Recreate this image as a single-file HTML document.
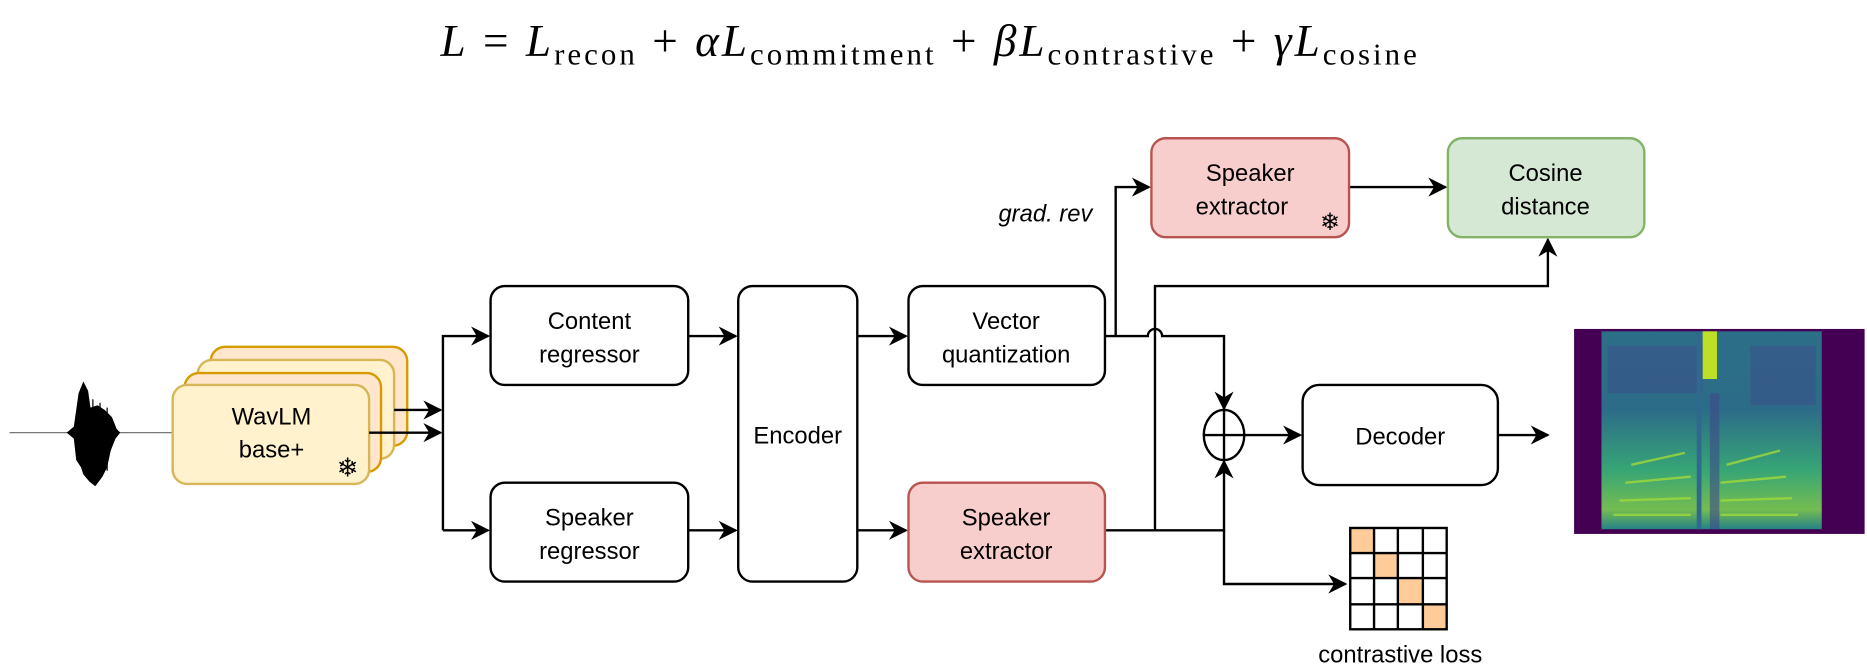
<!DOCTYPE html>
<html><head><meta charset="utf-8"><style>
html,body{margin:0;padding:0;background:#fff;}
svg{display:block}
.s{font-family:"Liberation Sans",Arial,sans-serif;}
.f{font-family:"Liberation Serif","DejaVu Serif",serif;}
</style></head><body>
<svg width="1867" height="671" viewBox="0 0 1568 563" preserveAspectRatio="none" xmlns="http://www.w3.org/2000/svg">
<defs>
<marker id="b" viewBox="0 0 10 10" refX="9" refY="5" markerWidth="16" markerHeight="16" orient="auto" markerUnits="userSpaceOnUse"><path d="M0,0 L10,5 L0,10 L3,5 z" fill="#000"/></marker>
<linearGradient id="sp" x1="0" y1="0" x2="0" y2="1">
<stop offset="0" stop-color="#2a7b8e"/><stop offset="0.4" stop-color="#2a788e"/><stop offset="0.7" stop-color="#35b779"/><stop offset="0.9" stop-color="#7ad151"/><stop offset="1" stop-color="#21918c"/></linearGradient>
</defs>
<!-- formula -->
<text class="f" x="370" y="47" font-size="38" textLength="820" lengthAdjust="spacing"><tspan font-style="italic">L</tspan> = <tspan font-style="italic">L</tspan><tspan font-size="26" dy="7">recon</tspan><tspan dy="-7"> + </tspan><tspan font-style="italic">αL</tspan><tspan font-size="26" dy="7">commitment</tspan><tspan dy="-7"> + </tspan><tspan font-style="italic">βL</tspan><tspan font-size="26" dy="7">contrastive</tspan><tspan dy="-7"> + </tspan><tspan font-style="italic">γL</tspan><tspan font-size="26" dy="7">cosine</tspan></text>

<!-- waveform -->
<line x1="8" y1="363" x2="145" y2="363" stroke="#777" stroke-width="1"/>
<path d="M56,363 L62,358 L66,330 L70,320 L74,328 L76,342 L82,340 L88,344 L94,350 L98,360 L101,363 L97,368 L93,378 L90,392 L86,400 L80,408 L75,404 L70,398 L68,392 L64,386 L62,368 Z" fill="#000"/>
<g stroke="#000" stroke-width="1">
<line x1="78" y1="335" x2="78" y2="405"/><line x1="84" y1="338" x2="84" y2="402"/><line x1="90" y1="342" x2="90" y2="395"/>
</g>

<!-- WavLM stack -->
<rect x="177" y="291" width="165" height="83" rx="12" fill="#ffe6cc" stroke="#d79b00" stroke-width="2"/>
<rect x="166" y="302" width="165" height="83" rx="12" fill="#fff2cc" stroke="#d6b656" stroke-width="2"/>
<rect x="155" y="313" width="165" height="83" rx="12" fill="#ffe6cc" stroke="#d79b00" stroke-width="2"/>
<rect x="145" y="323" width="165" height="83" rx="12" fill="#fff2cc" stroke="#d6b656" stroke-width="2"/>
<text class="s" x="228" y="356" text-anchor="middle" font-size="20">WavLM</text>
<text class="s" x="228" y="384" text-anchor="middle" font-size="20">base+</text>
<text class="s" x="292" y="400" text-anchor="middle" font-size="22">❄</text>

<g stroke="#000" stroke-width="2" fill="none">
<line x1="331" y1="344" x2="370" y2="344" marker-end="url(#b)"/>
<line x1="310" y1="363" x2="370" y2="363" marker-end="url(#b)"/>
<path d="M372,445 V282 H410" marker-end="url(#b)"/>
<path d="M372,445 H410" marker-end="url(#b)"/>
<line x1="578" y1="282" x2="618" y2="282" marker-end="url(#b)"/>
<line x1="578" y1="445" x2="618" y2="445" marker-end="url(#b)"/>
<line x1="720" y1="282" x2="761" y2="282" marker-end="url(#b)"/>
<line x1="720" y1="445" x2="761" y2="445" marker-end="url(#b)"/>
<path d="M928,282 H964 A6,6 0 0 1 976,282 H1028 V343" marker-end="url(#b)"/>
<path d="M937,282 V157 H965" marker-end="url(#b)"/>
<path d="M1133,157 H1214" marker-end="url(#b)"/>
<path d="M928,445 H1028 V387" marker-end="url(#b)"/>
<path d="M970,445 V240 H1300 V201" marker-end="url(#b)"/>
<path d="M1028,445 V490 H1130" marker-end="url(#b)"/>
<line x1="1045" y1="365" x2="1092" y2="365" marker-end="url(#b)"/>
<line x1="1258" y1="365" x2="1300" y2="365" marker-end="url(#b)"/>
<ellipse cx="1028" cy="365" rx="17" ry="21"/>
<line x1="1011" y1="365" x2="1045" y2="365"/>
<line x1="1028" y1="344" x2="1028" y2="386"/>
</g>

<!-- boxes -->
<g stroke="#000" stroke-width="2" fill="#fff">
<rect x="412" y="240" width="166" height="83" rx="12"/>
<rect x="412" y="405" width="166" height="83" rx="12"/>
<rect x="620" y="240" width="100" height="248" rx="12"/>
<rect x="763" y="240" width="165" height="83" rx="12"/>
<rect x="1094" y="323" width="164" height="84" rx="14"/>
</g>
<rect x="763" y="405" width="165" height="83" rx="12" fill="#f8cecc" stroke="#b85450" stroke-width="2"/>
<rect x="967" y="116" width="166" height="83" rx="12" fill="#f8cecc" stroke="#b85450" stroke-width="2"/>
<rect x="1216" y="116" width="165" height="83" rx="12" fill="#d5e8d4" stroke="#82b366" stroke-width="2"/>

<g class="s" font-size="20" text-anchor="middle">
<text x="495" y="276">Content</text><text x="495" y="304">regressor</text>
<text x="495" y="441">Speaker</text><text x="495" y="469">regressor</text>
<text x="670" y="372">Encoder</text>
<text x="845" y="276">Vector</text><text x="845" y="304">quantization</text>
<text x="845" y="441">Speaker</text><text x="845" y="469">extractor</text>
<text x="1050" y="152">Speaker</text><text x="1043" y="180">extractor</text>
<text x="1117" y="193" font-size="20">❄</text>
<text x="1298" y="152">Cosine</text><text x="1298" y="180">distance</text>
<text x="1176" y="373">Decoder</text>
<text x="878" y="186" font-style="italic">grad. rev</text>
<text x="1176" y="556">contrastive loss</text>
</g>

<!-- grid -->
<g>
<rect x="1134" y="443" width="81" height="85" fill="#fff"/>
<rect x="1134" y="443" width="20" height="21" fill="#ffcc99"/>
<rect x="1154" y="464" width="20" height="21" fill="#ffcc99"/>
<rect x="1174" y="485" width="21" height="22" fill="#ffcc99"/>
<rect x="1195" y="507" width="20" height="21" fill="#ffcc99"/>
<g stroke="#000" stroke-width="2" fill="none">
<rect x="1134" y="443" width="81" height="85"/>
<line x1="1154" y1="443" x2="1154" y2="528"/><line x1="1174" y1="443" x2="1174" y2="528"/><line x1="1195" y1="443" x2="1195" y2="528"/>
<line x1="1134" y1="464" x2="1215" y2="464"/><line x1="1134" y1="485" x2="1215" y2="485"/><line x1="1134" y1="507" x2="1215" y2="507"/>
</g>
</g>

<!-- spectrogram -->
<rect x="1322" y="276" width="244" height="172" fill="#440154"/>
<rect x="1345" y="278" width="185" height="166" fill="url(#sp)" opacity="0.9"/>
<rect x="1350" y="290" width="80" height="40" fill="#3b528b" opacity="0.6"/>
<rect x="1470" y="290" width="55" height="50" fill="#3b528b" opacity="0.6"/>
<rect x="1430" y="278" width="12" height="40" fill="#bddf26"/>
<rect x="1425" y="278" width="4" height="166" fill="#31688e"/>
<rect x="1436" y="330" width="8" height="114" fill="#3e4a89" opacity="0.6"/>
<g stroke="#a0da39" stroke-width="2" opacity="0.8">
<line x1="1355" y1="432" x2="1420" y2="432"/><line x1="1445" y1="432" x2="1510" y2="432"/>
<line x1="1360" y1="420" x2="1420" y2="418"/><line x1="1445" y1="420" x2="1505" y2="418"/>
<line x1="1365" y1="405" x2="1420" y2="400"/><line x1="1445" y1="405" x2="1500" y2="400"/>
<line x1="1370" y1="390" x2="1415" y2="380"/><line x1="1450" y1="390" x2="1495" y2="378"/>
</g>
</svg>
</body></html>
